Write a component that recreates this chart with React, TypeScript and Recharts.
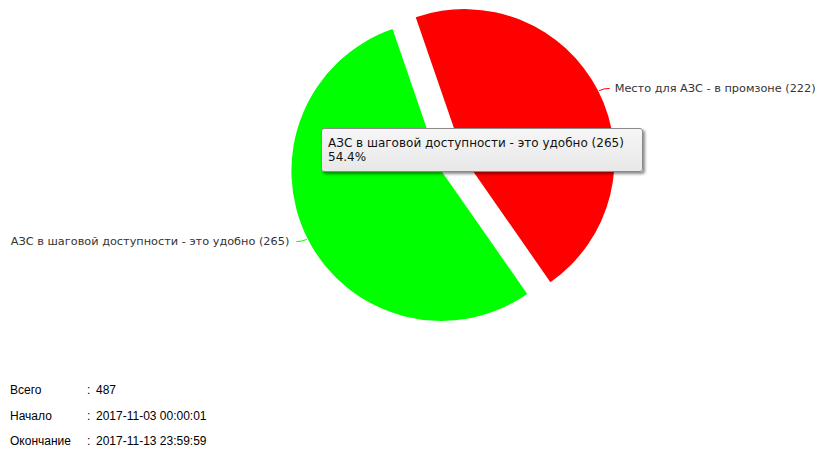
import { PieChart, Pie, Cell } from "recharts";

const names = ["Место для АЗС - в промзоне", "АЗС в шаговой доступности - это удобно"];
const values = [222, 265];
const colors = ["#ff0000", "#00ff00"];
const summaryLabels = ["Всего", "Начало", "Окончание"];
const summaryValues = ["487", "2017-11-03 00:00:01", "2017-11-13 23:59:59"];
const tooltipIndex = 1;

const data = names.map((name, i) => ({ name, value: values[i] }));
const total = values.reduce((a, b) => a + b, 0);

const RAD = Math.PI / 180;
const CX = 448;
const CY = 160;
const R = 150;
const EXPLODE = 13;
const START = -55.1;

// mid angle of each slice, used to push it away from the centre
const midAngles: number[] = [];
{
  let a = START;
  values.forEach((v) => {
    const sweep = (v / total) * 360;
    midAngles.push(a + sweep / 2);
    a += sweep;
  });
}

const renderLabel = (visible: number) => (props: any) => {
  const { cx, cy, midAngle, outerRadius, index } = props;
  if (index !== visible) return null;
  const cos = Math.cos(-midAngle * RAD);
  const sin = Math.sin(-midAngle * RAD);
  const sx = cx + (outerRadius + 1) * cos;
  const sy = cy + (outerRadius + 1) * sin;
  const mx = cx + (outerRadius + 6) * cos;
  const my = cy + (outerRadius + 6) * sin;
  const right = cos >= 0;
  const ex = mx + (right ? 6 : -6);
  const ey = my;
  return (
    <g>
      <path d={`M${sx},${sy}Q${mx},${my} ${ex},${ey}`} stroke={colors[index]} fill="none" strokeWidth={1} />
      <text
        x={ex + (right ? 5 : -7)}
        y={ey}
        textAnchor={right ? "start" : "end"}
        dominantBaseline="central"
        fontFamily="DejaVu Sans, Verdana, sans-serif"
        fontSize={11.3}
        fill="#333"
      >
        {`${names[index]} (${values[index]})`}
      </text>
    </g>
  );
};

const App = () => {
  return (
    <div style={{ position: "absolute", left: 0, top: 0, width: 833, height: 452, background: "#fff" }}>
      <PieChart width={833} height={360}>
        {values.map((_, vi) => (
          <Pie
            key={vi}
            data={data}
            dataKey="value"
            nameKey="name"
            cx={CX + EXPLODE * Math.cos(midAngles[vi] * RAD)}
            cy={CY - EXPLODE * Math.sin(midAngles[vi] * RAD)}
            outerRadius={R}
            startAngle={START}
            endAngle={START + 360}
            stroke="none"
            label={renderLabel(vi)}
            labelLine={false}
            isAnimationActive={false}
          >
            {data.map((_, i) => (
              <Cell key={i} fill={i === vi ? colors[i] : "transparent"} />
            ))}
          </Pie>
        ))}
      </PieChart>
      <div
        style={{
          position: "absolute",
          left: 321,
          top: 128,
          width: 322,
          height: 44,
          boxSizing: "border-box",
          padding: "7px 6px",
          border: "1px solid #8a8a8a",
          borderRadius: 3,
          background: "linear-gradient(#f6f6f6, #e8e8e8)",
          boxShadow: "2px 2px 3px rgba(0,0,0,0.45)",
          fontFamily: "DejaVu Sans, Verdana, sans-serif",
          fontSize: 12,
          lineHeight: "14px",
          color: "#111",
          whiteSpace: "nowrap",
        }}
      >
        <div>{`${names[tooltipIndex]} (${values[tooltipIndex]})`}</div>
        <div>{`${((values[tooltipIndex] / total) * 100).toFixed(1)}%`}</div>
      </div>
      <div style={{ position: "absolute", left: 10, top: 383, fontFamily: "Liberation Sans, Arial, sans-serif", fontSize: 12, color: "#000" }}>
        {summaryLabels.map((l, i) => (
          <div key={l} style={{ display: "flex", height: 25.5, alignItems: "flex-start" }}>
            <span style={{ width: 77 }}>{l}</span>
            <span style={{ width: 9 }}>:</span>
            <span>{summaryValues[i]}</span>
          </div>
        ))}
      </div>
    </div>
  );
};

export default App;
